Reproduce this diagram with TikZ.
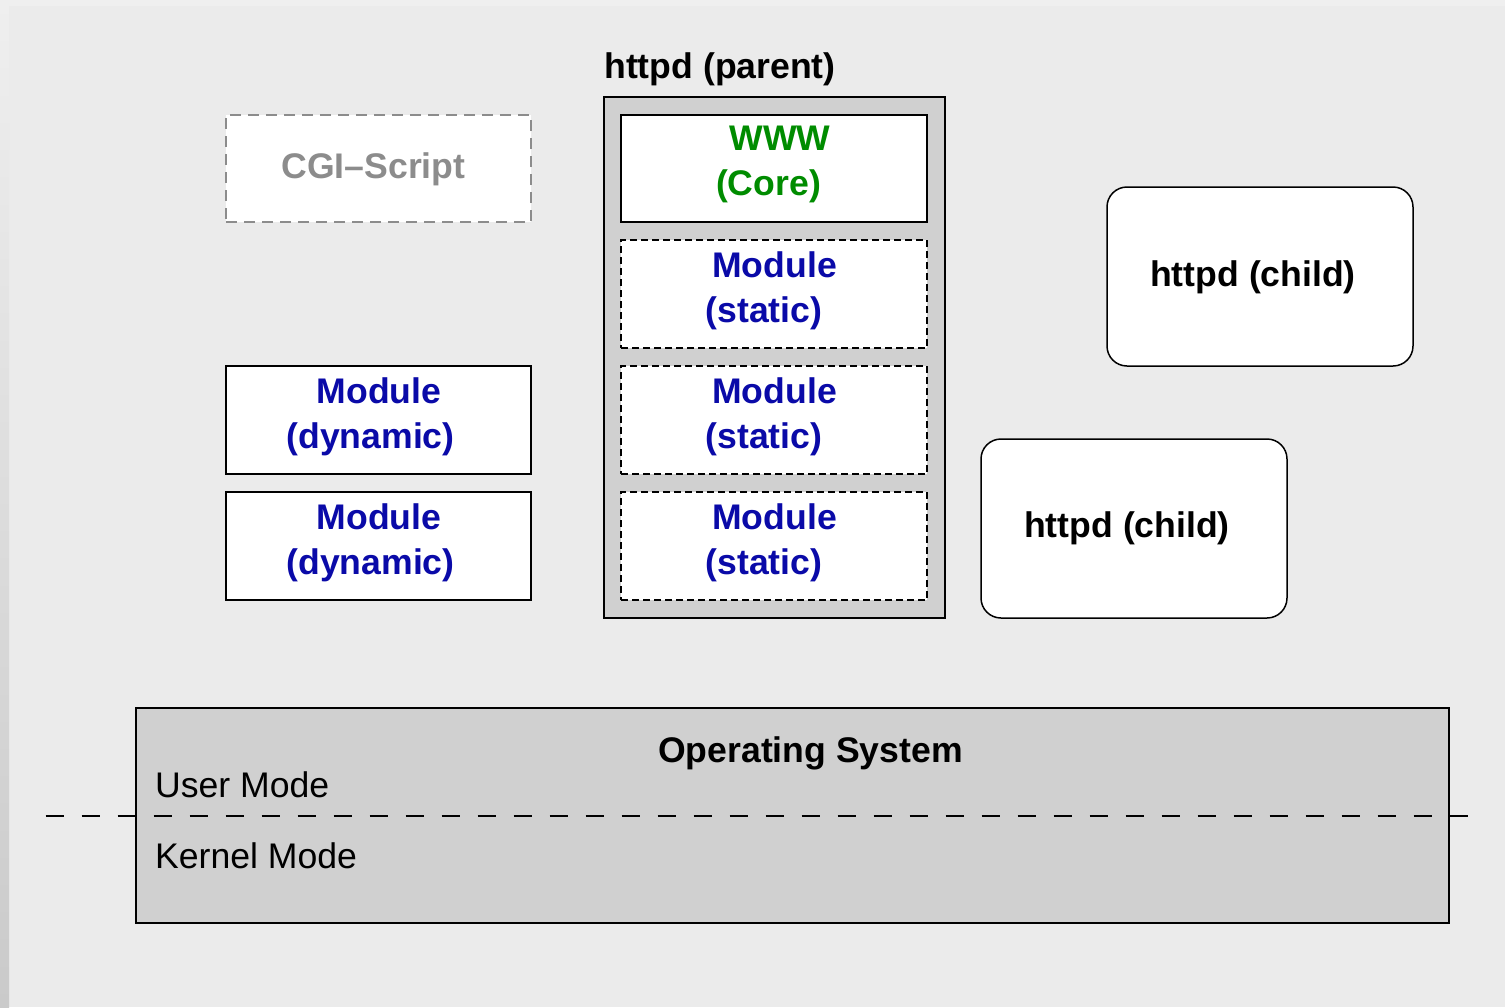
\documentclass[tikz,border=0pt]{standalone}
\usepackage{fontspec}
\setmainfont{Liberation Sans}
\definecolor{bg}{HTML}{EBEBEB}
\definecolor{bgtop}{HTML}{EFEFEF}
\definecolor{stripbot}{HTML}{CACACA}
\definecolor{panel}{HTML}{D0D0D0}
\definecolor{modblue}{HTML}{0A0AA8}
\definecolor{wwwgreen}{HTML}{008C00}
\definecolor{cgigray}{HTML}{8C8C8C}
\tikzset{
  txt/.style={inner sep=0pt, anchor=base, font=\fontsize{35.6}{44}\selectfont\bfseries},
  plaintxt/.style={inner sep=0pt, anchor=base west, font=\fontsize{35.6}{44}\selectfont},
  boxbase/.style={rectangle, inner sep=0pt, outer sep=0pt, fill=white},
  solidbox/.style={boxbase, draw=black, line width=1.5pt},
  staticbox/.style={boxbase, draw=black, line width=1.5pt, dash pattern=on 7pt off 4pt},
  cgibox/.style={boxbase, draw=cgigray, line width=1.5pt, dash pattern=on 11pt off 7pt},
  childbox/.style={boxbase, draw=black, line width=1.5pt, rounded corners=20pt},
  panelbox/.style={rectangle, inner sep=0pt, outer sep=0pt, fill=panel, draw=black, line width=2pt},
  modeline/.style={draw=black, line width=2.3pt, dash pattern=on 18pt off 18pt}
}
\begin{document}
\begin{tikzpicture}[x=1pt, y=-1pt]
\useasboundingbox (0,0) rectangle (1505,1007);
% background
\fill[bg] (0,0) rectangle (1505,1007);
\fill[bgtop] (0,0) rectangle (1505,6);
\shade[top color=bgtop, bottom color=stripbot] (0,0) rectangle (9,1007);

% httpd parent
\node[panelbox, minimum width=341pt, minimum height=521pt] (parent) at (774.5,357.5) {};
\node[txt] (parentlbl) at (720,78) {httpd (parent)};
\node[solidbox, minimum width=306pt, minimum height=107pt] (www) at (774,168.5) {};
\node[txt, text=wwwgreen] (wwwa) at (780,150) {WWW};
\node[txt, text=wwwgreen] (wwwb) at (768.5,195) {(Core)};

\foreach \t/\n in {240/s1,366/s2,492/s3}{
  \node[staticbox, minimum width=306pt, minimum height=108pt] (\n) at (774,\t+54) {};
  \node[txt, text=modblue] (\n a) at (774.5,\t+37) {Module};
  \node[txt, text=modblue] (\n b) at (764,\t+82) {(static)};
}

% CGI script
\node[cgibox, minimum width=305pt, minimum height=107pt] (cgi) at (378.5,168.5) {};
\node[txt, text=cgigray] (cgilbl) at (373.5,178) {CGI–Script};

% dynamic modules
\foreach \t/\n in {366/d1,492/d2}{
  \node[solidbox, minimum width=305pt, minimum height=108pt] (\n) at (378.5,\t+54) {};
  \node[txt, text=modblue] (\n a) at (379,\t+37) {Module};
  \node[txt, text=modblue] (\n b) at (370.5,\t+82) {(dynamic)};
}

% children
\node[childbox, minimum width=306pt, minimum height=179pt] (child1) at (1260,276.5) {};
\node[txt] (child1lbl) at (1253,286) {httpd (child)};
\node[childbox, minimum width=306pt, minimum height=179pt] (child2) at (1134,528.5) {};
\node[txt] (child2lbl) at (1127,537) {httpd (child)};

% operating system
\node[panelbox, minimum width=1313pt, minimum height=215pt] (os) at (792.5,815.5) {};
\node[txt] (oslbl) at (810.5,762) {Operating System};
\node[plaintxt] (user) at (155,797) {User Mode};
\node[plaintxt] (kernel) at (155,868) {Kernel Mode};

\coordinate (mL) at (45.7,816);
\coordinate (mR) at (1468,816);
\draw[modeline] (mL) -- (mR);
\end{tikzpicture}
\end{document}
